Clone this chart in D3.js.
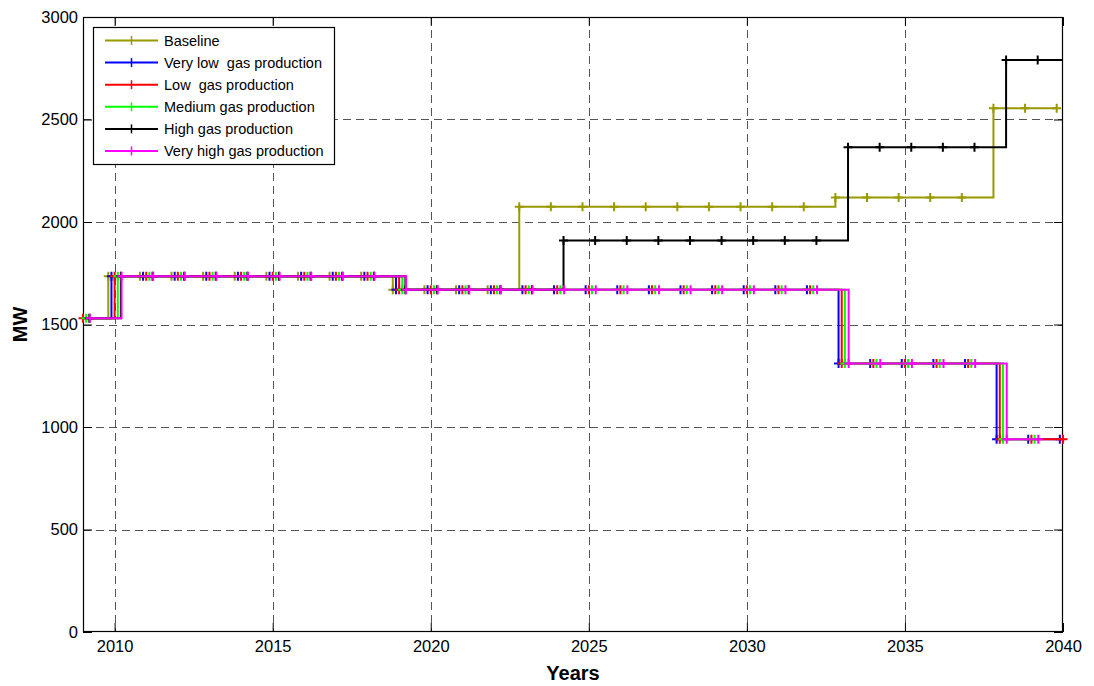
<!DOCTYPE html>
<html>
<head>
<meta charset="utf-8">
<script src="https://cdn.jsdelivr.net/npm/d3@7/dist/d3.min.js"></script>
<style>
  html, body { margin: 0; padding: 0; background: #fff; }
  svg { display: block; font-family: Arial, "Liberation Sans", sans-serif; }
</style>
</head>
<body>
<svg id="chart" width="1094" height="686"></svg>
<script>
// Installed capacity (MW) per year for each gas production scenario
const years = [2009, 2010, 2011, 2012, 2013, 2014, 2015, 2016, 2017, 2018,
               2019, 2020, 2021, 2022, 2023, 2024, 2025, 2026, 2027, 2028,
               2029, 2030, 2031, 2032, 2033, 2034, 2035, 2036, 2037, 2038,
               2039, 2040];

const baseline = [1530, 1735, 1735, 1735, 1735, 1735, 1735, 1735, 1735, 1735,
                  1670, 1670, 1670, 1670, 2075, 2075, 2075, 2075, 2075, 2075,
                  2075, 2075, 2075, 2075, 2120, 2120, 2120, 2120, 2120, 2555,
                  2555, 2555];

const veryLowGas = [1530, 1735, 1735, 1735, 1735, 1735, 1735, 1735, 1735, 1735,
                    1670, 1670, 1670, 1670, 1670, 1670, 1670, 1670, 1670, 1670,
                    1670, 1670, 1670, 1670, 1310, 1310, 1310, 1310, 1310, 940,
                    940, 940];

const lowGas = [1530, 1735, 1735, 1735, 1735, 1735, 1735, 1735, 1735, 1735,
                1670, 1670, 1670, 1670, 1670, 1670, 1670, 1670, 1670, 1670,
                1670, 1670, 1670, 1670, 1310, 1310, 1310, 1310, 1310, 940,
                940, 940];

const mediumGas = [1530, 1735, 1735, 1735, 1735, 1735, 1735, 1735, 1735, 1735,
                   1670, 1670, 1670, 1670, 1670, 1670, 1670, 1670, 1670, 1670,
                   1670, 1670, 1670, 1670, 1310, 1310, 1310, 1310, 1310, 940,
                   940, null];

const highGas = [1530, 1735, 1735, 1735, 1735, 1735, 1735, 1735, 1735, 1735,
                 1670, 1670, 1670, 1670, 1670, 1910, 1910, 1910, 1910, 1910,
                 1910, 1910, 1910, 1910, 2365, 2365, 2365, 2365, 2365, 2790,
                 2790, 2790];

const veryHighGas = [1530, 1735, 1735, 1735, 1735, 1735, 1735, 1735, 1735, 1735,
                     1670, 1670, 1670, 1670, 1670, 1670, 1670, 1670, 1670, 1670,
                     1670, 1670, 1670, 1670, 1310, 1310, 1310, 1310, 1310, 940,
                     940, null];

const seriesNames = ["Baseline", "Very low  gas production", "Low  gas production",
                     "Medium gas production", "High gas production", "Very high gas production"];
const seriesValues = [baseline, veryLowGas, lowGas, mediumGas, highGas, veryHighGas];
// Each scenario is nudged along the year axis so the overlapping steps stay visible
const seriesShift = [-0.2, -0.1, 0, 0.1, 0.2, 0.22];
const seriesColors = ["#999900", "#0000ff", "#ff0000", "#00ff00", "#000000", "#ff00ff"];

const xTicks = [2010, 2015, 2020, 2025, 2030, 2035, 2040];
const yTicks = [0, 500, 1000, 1500, 2000, 2500, 3000];

// ---- layout ----
const plot = { left: 83, right: 1063, top: 17, bottom: 632 };
const svg = d3.select("#chart");

const x = d3.scaleLinear().domain([2009, 2040]).range([plot.left, plot.right]);
const y = d3.scaleLinear().domain([0, 3000]).range([plot.bottom, plot.top]);

svg.append("defs").append("clipPath").attr("id", "plot-clip")
  .append("rect")
  .attr("x", plot.left).attr("y", plot.top)
  .attr("width", plot.right - plot.left).attr("height", plot.bottom - plot.top);

// grid
const grid = svg.append("g");
grid.selectAll("line.gx").data(xTicks.filter(t => t > 2009 && t < 2040)).join("line")
  .attr("x1", d => Math.round(x(d)) + 0.5).attr("x2", d => Math.round(x(d)) + 0.5)
  .attr("y1", plot.top).attr("y2", plot.bottom)
  .attr("stroke", "#555").attr("stroke-width", 1).attr("stroke-dasharray", "8,5");
grid.selectAll("line.gy").data(yTicks.filter(t => t > 0 && t < 3000)).join("line")
  .attr("y1", d => Math.round(y(d)) + 0.5).attr("y2", d => Math.round(y(d)) + 0.5)
  .attr("x1", plot.left).attr("x2", plot.right)
  .attr("stroke", "#555").attr("stroke-width", 1).attr("stroke-dasharray", "8,5");

// axes with inward ticks on all four sides
const tickLen = 9;
const axisBottom = svg.append("g").attr("transform", `translate(0,${plot.bottom})`)
  .call(d3.axisBottom(x).tickValues(xTicks).tickFormat(d3.format("d")).tickSize(-tickLen).tickPadding(8));
const axisTop = svg.append("g").attr("transform", `translate(0,${plot.top})`)
  .call(d3.axisTop(x).tickValues(xTicks).tickFormat("").tickSize(-tickLen));
const axisLeft = svg.append("g").attr("transform", `translate(${plot.left},0)`)
  .call(d3.axisLeft(y).tickValues(yTicks).tickFormat(d3.format("d")).tickSize(-tickLen).tickPadding(5));
const axisRight = svg.append("g").attr("transform", `translate(${plot.right},0)`)
  .call(d3.axisRight(y).tickValues(yTicks).tickFormat("").tickSize(-tickLen));

[axisBottom, axisTop, axisLeft, axisRight].forEach(g => {
  g.select(".domain").remove();
  g.selectAll(".tick line").attr("stroke", "#000");
  g.selectAll("text").attr("fill", "#000").style("font-size", "16.5px");
});

svg.append("rect")
  .attr("x", plot.left + 0.5).attr("y", plot.top + 0.5)
  .attr("width", plot.right - plot.left - 1).attr("height", plot.bottom - plot.top - 1)
  .attr("fill", "none").attr("stroke", "#000").attr("stroke-width", 1.2);

// scenario step lines
const series = seriesNames.map((name, i) => ({
  name,
  color: seriesColors[i],
  points: years.map((yr, j) => ({ t: yr + seriesShift[i], v: seriesValues[i][j] }))
                .filter(p => p.v !== null)
}));

const stepLine = d3.line()
  .x(p => x(p.t)).y(p => y(p.v))
  .curve(d3.curveStepAfter);

const marks = svg.append("g");
series.forEach(s => {
  const g = marks.append("g");
  g.append("path")
    .attr("d", stepLine(s.points))
    .attr("clip-path", "url(#plot-clip)")
    .attr("fill", "none").attr("stroke", s.color).attr("stroke-width", 2);

  const arm = 4.5;
  const visible = s.points.filter(p => p.t >= 2009 - 1e-6 && p.t <= 2040 + 1e-6);
  g.selectAll("path.mk").data(visible).join("path")
    .attr("d", p => {
      const cx = x(p.t), cy = y(p.v);
      return `M${cx - arm},${cy}H${cx + arm}M${cx},${cy - arm}V${cy + arm}`;
    })
    .attr("stroke", s.color).attr("stroke-width", 2).attr("fill", "none");
});

// axis titles
svg.append("text")
  .attr("x", (plot.left + plot.right) / 2).attr("y", 680)
  .attr("text-anchor", "middle")
  .style("font-size", "20px").style("font-weight", "bold")
  .text("Years");
svg.append("text")
  .attr("transform", `translate(27,${(plot.top + plot.bottom) / 2}) rotate(-90)`)
  .attr("text-anchor", "middle")
  .style("font-size", "20px").style("font-weight", "bold")
  .text("MW");

// legend
const legend = svg.append("g");
legend.append("rect")
  .attr("x", 93.5).attr("y", 27.5).attr("width", 241).attr("height", 137)
  .attr("fill", "#fff").attr("stroke", "#000").attr("stroke-width", 1.2);
series.forEach((s, i) => {
  const ly = 40.5 + i * 22.1;
  legend.append("line")
    .attr("x1", 105).attr("x2", 158).attr("y1", ly).attr("y2", ly)
    .attr("stroke", s.color).attr("stroke-width", 2);
  legend.append("line")
    .attr("x1", 131.5).attr("x2", 131.5).attr("y1", ly - 4.5).attr("y2", ly + 4.5)
    .attr("stroke", s.color).attr("stroke-width", 1.5);
  legend.append("text")
    .attr("x", 164).attr("y", ly + 5)
    .style("font-size", "14.5px").style("white-space", "pre")
    .attr("xml:space", "preserve")
    .text(s.name);
});
</script>
</body>
</html>
